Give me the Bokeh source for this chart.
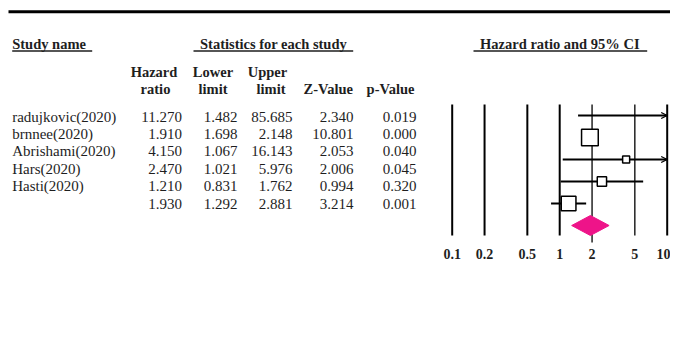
import numpy as np
from bokeh.plotting import figure
from bokeh.models import Range1d, LogScale, LogAxis, FixedTicker, Arrow, OpenHead
from bokeh.core.properties import value
from bokeh.embed import file_html
from bokeh.resources import INLINE

# ---------------- data ----------------
studies = ["radujkovic(2020)", "brnnee(2020)", "Abrishami(2020)", "Hars(2020)", "Hasti(2020)"]
hazard_ratio = [11.270, 1.910, 4.150, 2.470, 1.210]
lower_limit = [1.482, 1.698, 1.067, 1.021, 0.831]
upper_limit = [85.685, 2.148, 16.143, 5.976, 1.762]
z_value = [2.340, 10.801, 2.053, 2.006, 0.994]
p_value = [0.019, 0.000, 0.040, 0.045, 0.320]
weight_pct = [1.4, 43.7, 7.7, 13.5, 33.8]

summary_hr = 1.930
summary_lower = 1.292
summary_upper = 2.881
summary_z = 3.214
summary_p = 0.001

axis_ticks = [0.1, 0.2, 0.5, 1, 2, 5, 10]
axis_labels = ["0.1", "0.2", "0.5", "1", "2", "5", "10"]

# ---------------- layout ----------------
W, H = 670, 323
FRAME_H = 243
PX_LO, PX_HI = 451.7, 666.7          # screen x of 0.1 and 10
per_dec = (PX_HI - PX_LO) / 2.0
log_lo = 10 ** (-1 - PX_LO / per_dec)
log_hi = 10 ** (1 + (W - PX_HI) / per_dec)

FONT = value("Liberation Serif")
TXT = "#1e1e1e"

p = figure(width=W, height=H, output_backend="svg", toolbar_location=None,
           x_axis_type=None, y_axis_type=None,
           x_range=Range1d(0, W), y_range=Range1d(FRAME_H, 0),
           min_border_left=0, min_border_right=0, min_border_top=0,
           min_border_bottom=H - FRAME_H)
p.outline_line_color = None
p.extra_x_ranges = {"hr": Range1d(log_lo, log_hi)}
p.extra_x_scales = {"hr": LogScale()}

# top rule
p.segment(x0=[8], x1=[W], y0=[11.3], y1=[11.3], line_color="black", line_width=3)

# group headers
hdr = dict(text_font=FONT, text_font_style="bold", text_font_size="14.5px",
           text_color=TXT, text_baseline="middle")
p.text(x=[11.7], y=[43.5], text=["Study name"], text_align="left", **hdr)
p.text(x=[273], y=[43.5], text=["Statistics for each study"], text_align="center", **hdr)
p.text(x=[559.3], y=[43.5], text=["Hazard ratio and 95% CI"], text_align="center", **hdr)
p.segment(x0=[11.7, 193, 473], x1=[91.7, 352.7, 646.7], y0=[50.5] * 3, y1=[50.5] * 3,
          line_color=TXT, line_width=1.3)

# column headers
col_hdr_top = ["Hazard", "Lower", "Upper"]
col_hdr_top_x = [153.5, 212.5, 267]
col_hdr_bot = ["ratio", "limit", "limit", "Z-Value", "p-Value"]
col_hdr_bot_x = [155, 212.5, 270.5, 327.7, 390]
p.text(x=col_hdr_top_x, y=[71] * 3, text=col_hdr_top, text_align="center", **hdr)
p.text(x=col_hdr_bot_x, y=[88.3] * 5, text=col_hdr_bot, text_align="center", **hdr)

# table body
n = len(studies)
row_y = [116 + i * 17.45 for i in range(n + 1)]
body = dict(text_font=FONT, text_font_size="15px", text_color=TXT, text_baseline="middle")
p.text(x=[11.7] * n, y=row_y[:n], text=studies, text_align="left", **body)
cols = [hazard_ratio + [summary_hr], lower_limit + [summary_lower],
        upper_limit + [summary_upper], z_value + [summary_z], p_value + [summary_p]]
col_right = [181.5, 237, 292, 353, 416]
for vals, xr in zip(cols, col_right):
    p.text(x=[xr] * (n + 1), y=row_y, text=["%.3f" % v for v in vals], text_align="right", **body)

# forest plot: vertical reference lines
vl_w = [2, 2, 2, 2, 1.3, 1.3, 2]
vl_y1 = [235, 235, 235, 235, 242, 235, 235]
p.segment(x0=axis_ticks, x1=axis_ticks, y0=[104] * len(axis_ticks), y1=vl_y1,
          line_color="black", line_width=vl_w, x_range_name="hr")

forest_y = [115 + i * 22 for i in range(n + 1)]
xmin, xmax = axis_ticks[0], axis_ticks[-1]
ci_lo = [max(v, xmin) for v in lower_limit]
ci_hi = [min(v, xmax) for v in upper_limit]
p.segment(x0=ci_lo, x1=ci_hi, y0=forest_y[:n], y1=forest_y[:n],
          line_color="black", line_width=2, x_range_name="hr")
for hi, y in zip(upper_limit, forest_y[:n]):
    if hi > xmax:
        p.add_layout(Arrow(end=OpenHead(size=6, line_width=1.3, line_color="black"),
                           x_start=xmax * 0.9, x_end=xmax, y_start=y, y_end=y,
                           line_width=0, line_alpha=0, x_range_name="hr"))

shown = [i for i in range(n) if xmin <= hazard_ratio[i] <= xmax]
side = [2.526 * np.sqrt(weight_pct[i]) for i in shown]
p.scatter(x=[hazard_ratio[i] for i in shown], y=[forest_y[i] for i in shown],
          marker="square", size=side, fill_color="white", line_color="black",
          line_width=1.5, x_range_name="hr")

# summary diamond
dy = forest_y[n]
p.patch(x=[summary_lower, summary_hr, summary_upper, summary_hr],
        y=[dy, dy - 10, dy, dy + 10], fill_color="#EE1489", line_color="#EE1489",
        x_range_name="hr")

# axis labels
ax = LogAxis(x_range_name="hr", ticker=FixedTicker(ticks=axis_ticks, minor_ticks=[]),
             major_label_overrides={t: l for t, l in zip(axis_ticks, axis_labels)})
ax.axis_line_color = None
ax.major_tick_line_color = None
ax.minor_tick_line_color = None
ax.major_tick_in = 0
ax.major_tick_out = 0
ax.major_label_standoff = 5
ax.major_label_text_font = "Liberation Serif"
ax.major_label_text_font_style = "bold"
ax.major_label_text_font_size = "14px"
ax.major_label_text_color = TXT
p.add_layout(ax, "below")

open("out.html", "w").write(file_html(p, INLINE))
